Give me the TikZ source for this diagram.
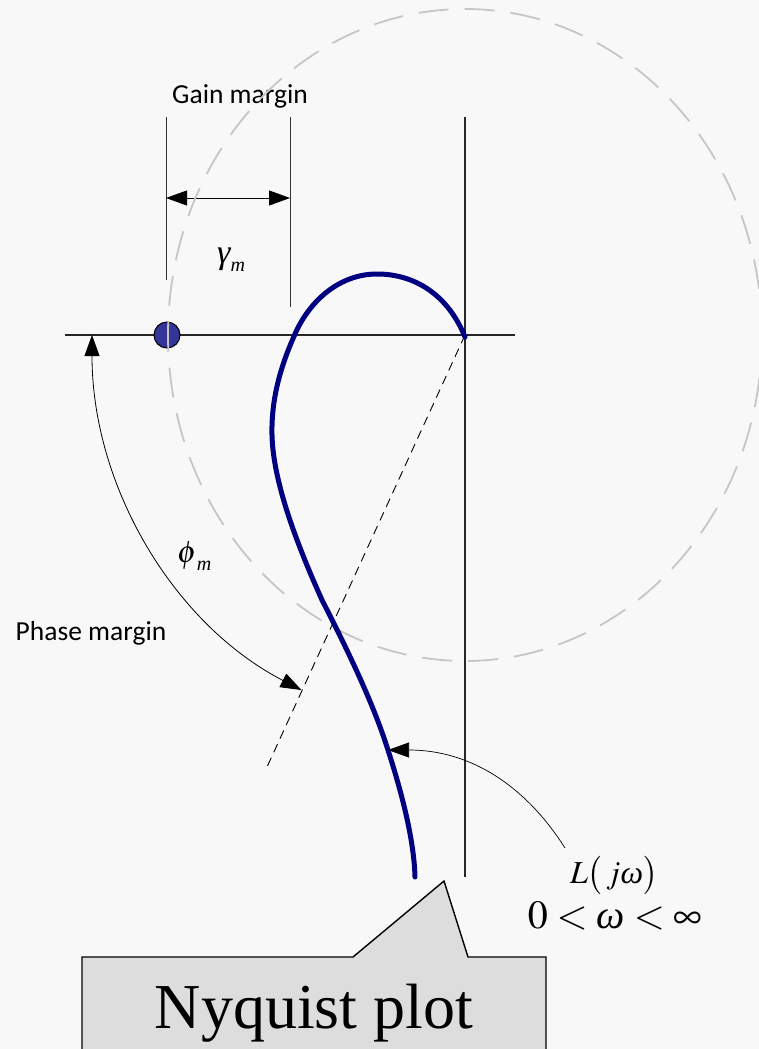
\documentclass[tikz,border=0pt]{standalone}
\usepackage{mathptmx}
\usepackage[no-math]{fontspec}
\setmainfont{Liberation Serif}
\newfontfamily\labelfont{Carlito}
\usetikzlibrary{arrows.meta}
\definecolor{bgc}{HTML}{F8F8F8}
\definecolor{navyc}{HTML}{000080}
\definecolor{dotc}{HTML}{353599}
\definecolor{circc}{HTML}{C6C6C6}
\definecolor{boxc}{HTML}{DDDDDD}
\newcommand{\lowsub}[1]{\raisebox{-8pt}{\fontsize{20}{21}\selectfont\itshape #1}}
\newcommand{\omg}{\mbox{\itshape ω}}
\begin{document}
\begin{tikzpicture}[x=1pt,y=-1pt,
  axisline/.style={line width=1.4pt, draw=black!85},
  tickline/.style={line width=1pt, draw=black!80},
  dimarrow/.style={line width=0.8pt, {Triangle[length=21pt,width=15pt]}-{Triangle[length=21pt,width=15pt]}},
  onearrow/.style={line width=0.7pt, -{Triangle[length=21pt,width=15pt]}},
  dashline/.style={line width=0.9pt, dash pattern=on 9pt off 6pt},
  graydash/.style={draw=circc, line width=1.8pt, dash pattern=on 30pt off 16pt},
  nyqline/.style={draw=navyc, line width=5pt, line cap=round},
  sanslabel/.style={font=\labelfont\fontsize{27.5}{30}\selectfont, inner sep=0pt},
  mathlabel/.style={font=\fontsize{31}{34}\selectfont, inner sep=0pt}]
\useasboundingbox (0,0) rectangle (759,1049);
\fill[bgc] (0,0) rectangle (759,1049);
\clip (0,0) rectangle (759,1049);
% axes
\coordinate (O) at (465,335);
\coordinate (axL) at (65,335);
\coordinate (axR) at (515,335);
\coordinate (vT) at (465,117);
\coordinate (vB) at (465,877);
\draw[axisline] (axL) -- (axR);
\draw[axisline] (vT) -- (vB);
% gain margin
\coordinate (g1T) at (166,117);
\coordinate (g1B) at (166,280);
\coordinate (g2T) at (290,117);
\coordinate (g2B) at (290,307);
\draw[tickline] (g1T) -- (g1B);
\draw[tickline] (g2T) -- (g2B);
\coordinate (ga) at (166,198);
\coordinate (gb) at (290,198);
\draw[dimarrow] (ga) -- (gb);
\node[sanslabel, anchor=base] (gain) at (240,103) {Gain margin};
\node[mathlabel, anchor=base west, font=\fontsize{34}{36}\selectfont] (gam) at (217,263) {\itshape γ\lowsub{m}};
% dashed phase line
\coordinate (dEnd) at (267,767);
\draw[dashline] (O) -- (dEnd);
% critical point
\node[circle, fill=dotc, draw=black, line width=1pt, minimum size=26pt, inner sep=0pt] (dot) at (167,335) {};
% unit circle
\draw[graydash] (O) ellipse [x radius=297pt, y radius=326pt];
% phase margin arc
\coordinate (pA) at (92,335);
\draw[dimarrow] (pA) arc[start angle=180, end angle=244, x radius=373pt, y radius=395pt];
\node[sanslabel, anchor=base] (phase) at (91,640) {Phase margin};
\node[mathlabel, anchor=base west] (phi) at (177,562) {$\phi$\lowsub{m}};
% Nyquist curve
\coordinate (nA) at (465,337);
\coordinate (nTop) at (377,274);
\coordinate (nX) at (295,334);
\coordinate (nL) at (272,435);
\coordinate (nC) at (322,600);
\coordinate (nD) at (387,747);
\coordinate (nE) at (415,877);
\draw[nyqline] (nA) .. controls (448,295) and (415,274) .. (nTop)
  .. controls (340,274) and (310,300) .. (nX)
  .. controls (283,361) and (271,395) .. (nL)
  .. controls (273,480) and (295,540) .. (nC)
  .. controls (345,645) and (372,700) .. (nD)
  .. controls (402,793) and (414,840) .. (nE);
% L(jw) pointer
\coordinate (Ltip) at (388,750);
\coordinate (Lstart) at (565,848);
\draw[onearrow] (Lstart) .. controls (525,785) and (470,750) .. (Ltip);
\node[anchor=base, inner sep=0pt, font=\fontsize{32}{34}\selectfont] (Lj) at (614,883) {$L\bigl(\,j\omg\bigr)$};
\node[anchor=base, inner sep=0pt, font=\fontsize{40}{42}\selectfont] (wr) at (615,928) {$0<\omg<\infty$};
% callout
\draw[fill=boxc, line width=1.4pt] (82,1075) -- (82,957) -- (353,957) -- (444,881) -- (468,957) -- (546,957) -- (546,1075) -- cycle;
\node[anchor=base, inner sep=0pt, font=\fontsize{64}{68}\selectfont] (nyq) at (314,1028) {Nyquist plot};
\end{tikzpicture}
\end{document}
